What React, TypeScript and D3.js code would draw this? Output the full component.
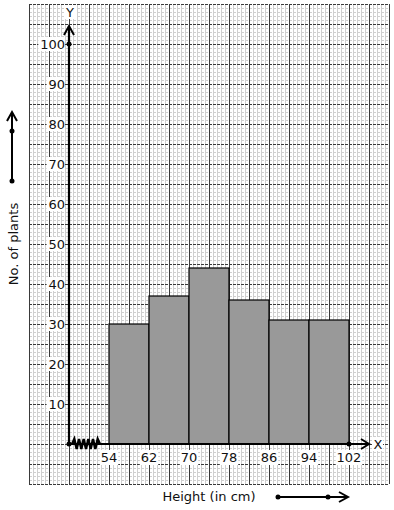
import React from "react";
import * as d3 from "d3";

const binStarts = [54, 62, 70, 78, 86, 94];
const binWidth = 8;
const frequencies = [30, 37, 44, 36, 31, 31];
const xTicks = [54, 62, 70, 78, 86, 94, 102];
const yTicks = [10, 20, 30, 40, 50, 60, 70, 80, 90, 100];
const xTitle = "Height (in cm)";
const yTitle = "No. of plants";

const W = 394;
const H = 510;
const FONT = "DejaVu Sans, sans-serif";

export default function App() {
  const x = d3.scaleLinear().domain([38, 110]).range([29, 389]);
  const y = d3.scaleLinear().domain([-10, 110]).range([484, 4]);
  const x0 = 46; // origin of the graph in x units

  const minorX = d3.range(38, 110.001, 0.8);
  const minorY = d3.range(-10, 110.001, 1);
  const majorX = d3.range(38, 110.001, 4);
  const majorY = d3.range(-10, 110.001, 5);

  const ox = x(x0);
  const oy = y(0);

  // zigzag (break mark) on x axis
  const zz: [number, number][] = [];
  const zStart = x(x0) + 3;
  const zEnd = x(x0) + 31;
  const nSeg = 12;
  for (let i = 0; i <= nSeg; i++) {
    const px = zStart + ((zEnd - zStart) * i) / nSeg;
    const py = i === 0 || i === nSeg ? oy : i % 2 ? oy - 5 : oy + 5;
    zz.push([px, py]);
  }
  const zzPath = d3.line()(zz) || "";

  const yTop = 26;
  const xRight = 369;

  return (
    <svg
      width={W}
      height={H}
      style={{ position: "absolute", left: 0, top: 0, background: "#fff" }}
      fontFamily={FONT}
    >
      <rect x={0} y={0} width={W} height={H} fill="#fff" />
      {/* minor grid */}
      <g stroke="#cfcfcf" strokeWidth={1} shapeRendering="crispEdges">
        {minorX.map((v, i) => (
          <line key={"mx" + i} x1={x(v)} x2={x(v)} y1={y(110)} y2={y(-10)} />
        ))}
        {minorY.map((v, i) => (
          <line key={"my" + i} x1={x(38)} x2={x(110)} y1={y(v)} y2={y(v)} strokeDasharray="3,1" />
        ))}
      </g>
      {/* major grid */}
      <g shapeRendering="crispEdges" strokeWidth={1}>
        {majorX.map((v, i) => (
          <line key={"Mx" + i} x1={x(v)} x2={x(v)} y1={y(110)} y2={y(-10)} stroke="#3a3a3a" />
        ))}
        {majorY.map((v, i) => (
          <line key={"My" + i} x1={x(38)} x2={x(110)} y1={y(v)} y2={y(v)} stroke="#3a3a3a" strokeDasharray="3,1" />
        ))}
      </g>

      {/* bars */}
      <g>
        {binStarts.map((s, i) => (
          <rect
            key={"b" + i}
            x={x(s)}
            y={y(frequencies[i])}
            width={x(s + binWidth) - x(s)}
            height={y(0) - y(frequencies[i])}
            fill="#999999"
            stroke="#000"
            strokeWidth={1.2}
          />
        ))}
      </g>

      {/* y tick labels */}
      <g fontSize={13} fill="#111">
        {yTicks.map((t) => {
          const label = String(t);
          const w = label.length * 8.2 + 2;
          return (
            <g key={"yt" + t}>
              <rect x={ox - 4 - w} y={y(t) - 7} width={w} height={14} fill="#fff" />
              <text x={ox - 4} y={y(t)} textAnchor="end" dominantBaseline="central">
                {label}
              </text>
            </g>
          );
        })}
      </g>
      {/* x tick labels */}
      <g fontSize={13} fill="#111">
        {xTicks.map((t) => {
          const label = String(t);
          const w = label.length * 8.2 + 2;
          return (
            <g key={"xt" + t}>
              <rect x={x(t) - w / 2} y={oy + 6} width={w} height={15} fill="#fff" />
              <text x={x(t)} y={oy + 13.5} textAnchor="middle" dominantBaseline="central">
                {label}
              </text>
            </g>
          );
        })}
      </g>

      {/* axes */}
      <g stroke="#000" strokeWidth={2.2} fill="none">
        <line x1={ox} x2={ox} y1={oy} y2={yTop} />
        <line x1={ox} x2={xRight} y1={oy} y2={oy} />
        <path d={`M${ox - 5},${yTop + 9} L${ox},${yTop} L${ox + 5},${yTop + 9}`} strokeWidth={2} />
        <path d={`M${xRight - 8},${oy - 5} L${xRight},${oy} L${xRight - 8},${oy + 5}`} strokeWidth={2} />
        <path d={zzPath} strokeWidth={2.4} strokeLinejoin="miter" />
      </g>
      <circle cx={ox} cy={y(100)} r={2.5} fill="#000" />
      <circle cx={ox} cy={oy} r={2.5} fill="#000" />
      <circle cx={x(102)} cy={oy} r={2.5} fill="#000" />

      {/* axis letters */}
      <rect x={ox - 4} y={5} width={11} height={14} fill="#fff" />
      <text x={ox + 1} y={12} fontSize={13} textAnchor="middle" dominantBaseline="central" fill="#111">
        Y
      </text>
      <rect x={xRight + 3} y={oy - 7} width={11} height={14} fill="#fff" />
      <text x={xRight + 9} y={oy} fontSize={13} textAnchor="middle" dominantBaseline="central" fill="#111">
        X
      </text>

      {/* titles */}
      <text x={209} y={496} fontSize={13} textAnchor="middle" dominantBaseline="central" fill="#111">
        {xTitle}
      </text>
      <text
        transform={`translate(13,244) rotate(-90)`}
        fontSize={13}
        textAnchor="middle"
        dominantBaseline="central"
        fill="#111"
      >
        {yTitle}
      </text>

      {/* direction arrows */}
      <g stroke="#000" strokeWidth={2} fill="none">
        <line x1={278} x2={347} y1={497} y2={497} />
        <path d="M339,492 L348,497 L339,502" />
        <line x1={12} x2={12} y1={181} y2={113} />
        <path d="M7,121 L12,112 L17,121" />
      </g>
      <circle cx={278} cy={497} r={2.5} fill="#000" />
      <circle cx={328} cy={497} r={2.5} fill="#000" />
      <circle cx={12} cy={181} r={2.5} fill="#000" />
      <circle cx={12} cy={131} r={2.5} fill="#000" />
    </svg>
  );
}
